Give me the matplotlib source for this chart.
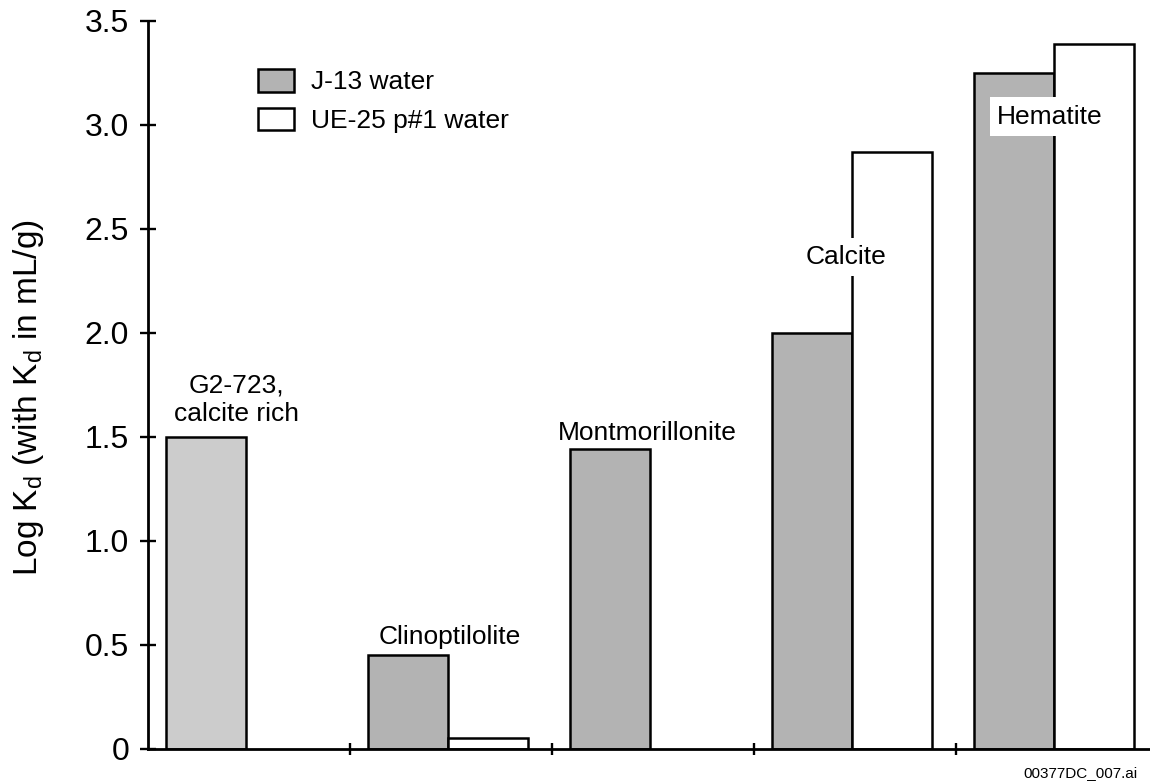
import matplotlib.pyplot as plt
from matplotlib.patches import Patch

plt.rcParams["font.family"] = ["Liberation Sans", "DejaVu Sans"]

# Data
minerals = ["G2-723,\ncalcite rich", "Clinoptilolite", "Montmorillonite", "Calcite", "Hematite"]
j13_logkd = [1.50, 0.45, 1.44, 2.00, 3.25]
ue25_logkd = [None, 0.055, None, 2.87, 3.39]
j13_colors = ["#cccccc", "#b3b3b3", "#b3b3b3", "#b3b3b3", "#b3b3b3"]
yticks = [0, 0.5, 1.0, 1.5, 2.0, 2.5, 3.0, 3.5]
ytick_labels = ["0", "0.5", "1.0", "1.5", "2.0", "2.5", "3.0", "3.5"]

# label placement (data coords) and whether a white box is behind it
label_pos = [(0.436, 1.68), (1.495, 0.54), (2.47, 1.52), (3.455, 2.365), (4.465, 3.04)]
label_box = [False, False, False, True, True]

W, H = 1150, 782
fig = plt.figure(figsize=(W / 100, H / 100), dpi=100)
ax = fig.add_axes([148 / W, 1 - 749 / H, (W - 148) / W, (749 - 21) / H])

bar_w = 0.395
lw = 1.8
for i, (v, c) in enumerate(zip(j13_logkd, j13_colors)):
    ax.bar(i + 0.09, v, width=bar_w, align="edge", color=c,
           edgecolor="black", linewidth=lw, zorder=2)
for i, v in enumerate(ue25_logkd):
    if v is None:
        continue
    ax.bar(i + 0.09 + bar_w, v, width=bar_w, align="edge", color="white",
           edgecolor="black", linewidth=lw, zorder=2)

for name, (x, y), boxed in zip(minerals, label_pos, label_box):
    kw = {}
    if boxed:
        kw["bbox"] = dict(boxstyle="square,pad=0.28", facecolor="white", edgecolor="none")
    ax.text(x, y, name, ha="center", va="center", fontsize=19,
            linespacing=1.25, zorder=3, **kw)

ax.set_xlim(0, (W - 148) / 202)
ax.set_ylim(0, 3.5)
ax.set_xticks([1, 2, 3, 4])
ax.set_xticklabels([])
ax.set_yticks(yticks)
ax.set_yticklabels(ytick_labels)

for s in ["top", "right"]:
    ax.spines[s].set_visible(False)
for s in ["left", "bottom"]:
    ax.spines[s].set_linewidth(2.0)
    ax.spines[s].set_zorder(4)

ax.tick_params(axis="y", direction="inout", length=11, width=1.7,
               labelsize=23, pad=8)
ax.tick_params(axis="x", direction="inout", length=8, width=1.7)

ax.set_ylabel("Log K$_\\mathregular{d}$ (with K$_\\mathregular{d}$ in mL/g)",
              fontsize=24)
ax.yaxis.set_label_coords(-0.102, 0.483)

handles = [Patch(facecolor="#b3b3b3", edgecolor="black", linewidth=1.8),
           Patch(facecolor="white", edgecolor="black", linewidth=1.8)]
fig.legend(handles, ["J-13 water", "UE-25 p#1 water"], loc="upper left",
           bbox_to_anchor=(258 / W, 1 - 69 / H), frameon=False, fontsize=19,
           handlelength=1.35, handleheight=0.94, handletextpad=0.67,
           labelspacing=0.5, borderpad=0, borderaxespad=0)

fig.text(1137 / W, 1 - 773 / H, "00377DC_007.ai", ha="right", va="center", fontsize=11)

fig.savefig("out.png", dpi=100)
